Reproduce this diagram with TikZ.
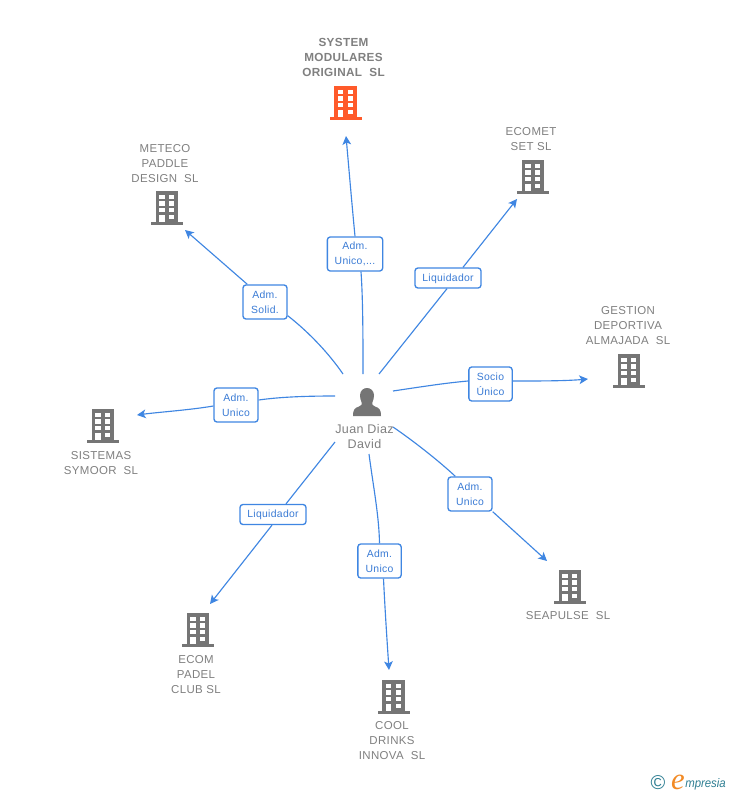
\documentclass[tikz,border=0pt]{standalone}
\usepackage{fontspec}
\usetikzlibrary{arrows.meta,calc}
\newfontfamily\lab[LetterSpace=3]{Liberation Sans}
\newfontfamily\plain{Liberation Sans}
\newfontfamily\serifit{Liberation Serif}
\definecolor{linkblue}{HTML}{3F86E2}
\definecolor{boxtext}{HTML}{3A7BD5}
\definecolor{namegrey}{HTML}{808080}
\definecolor{iconorange}{HTML}{FF5A2A}
\definecolor{icongrey}{HTML}{757575}
\definecolor{logoteal}{HTML}{2F7F93}
\definecolor{logoorange}{HTML}{F28A24}
\tikzset{
  x=0.75pt,y=-0.75pt,
  conn/.style={draw=linkblue,line width=0.85pt},
  arr/.style={conn,-{Stealth[length=6.5pt,width=6.5pt,inset=1.6pt]}},
  linkbox/.style={draw=linkblue,line width=1pt,rounded corners=2.2pt,fill=white,align=center,inner sep=0pt,
    text=boxtext,font=\lab\fontsize{7.8pt}{11.5pt}\selectfont},
  namelab/.style={text=namegrey,align=center,inner sep=0pt,font=\lab\fontsize{8.6pt}{11.25pt}\selectfont},
  anchorpt/.style={inner sep=0pt,minimum size=0pt},
  pics/bldg/.style={code={
    \fill[#1] (-11.3,-17) rectangle (11.3,15);
    \fill[#1] (-16,14) rectangle (16,17);
    \foreach \yy/\hh in {-13/4.4,-7/4.7,0.2/4.2}{
      \fill[white] (-7.7,\yy) rectangle (-2.4,{\yy+\hh});
      \fill[white] (2.3,\yy) rectangle (7.4,{\yy+\hh});
    }
    \fill[white] (-7.7,7) rectangle (-2.4,14.3);
    \fill[white] (2.3,7) rectangle (7.4,11.2);
  }}
}
\begin{document}
\begin{tikzpicture}
\useasboundingbox[fill=white] (0,0) rectangle (728,795);
% company anchors and icons
\node[anchorpt] (b1) at (345.5,103) {}; \pic at (b1) {bldg=iconorange};
\node[anchorpt] (b2) at (167,208) {};   \pic at (b2) {bldg=icongrey};
\node[anchorpt] (b3) at (533,177) {};   \pic at (b3) {bldg=icongrey};
\node[anchorpt] (b4) at (629,371) {};   \pic at (b4) {bldg=icongrey};
\node[anchorpt] (b5) at (103,426) {};   \pic at (b5) {bldg=icongrey};
\node[anchorpt] (b6) at (198,630) {};   \pic at (b6) {bldg=icongrey};
\node[anchorpt] (b7) at (393.5,697) {}; \pic at (b7) {bldg=icongrey};
\node[anchorpt] (b8) at (570,587) {};   \pic at (b8) {bldg=icongrey};
% company names
\node[namelab,font=\lab\bfseries\fontsize{8.8pt}{11.25pt}\selectfont] (n1) at (343.5,57.5) {SYSTEM\\MODULARES\\ORIGINAL\ \ SL};
\node[namelab] (n2) at (165,163.5) {METECO\\PADDLE\\DESIGN\ \ SL};
\node[namelab] (n3) at (531,139) {ECOMET\\SET SL};
\node[namelab] (n4) at (628,325.5) {GESTION\\DEPORTIVA\\ALMAJADA\ \ SL};
\node[namelab] (n5) at (101,463) {SISTEMAS\\SYMOOR\ \ SL};
\node[namelab] (n6) at (196,674.5) {ECOM\\PADEL\\CLUB SL};
\node[namelab] (n7) at (392,740.5) {COOL\\DRINKS\\INNOVA\ \ SL};
\node[namelab] (n8) at (568,615.5) {SEAPULSE\ \ SL};
% person
\node[anchorpt] (pers) at (367,403) {};
\fill[icongrey] (353,416) .. controls (353,409) and (355,408) .. (359,406.5)
  .. controls (361.5,405.5) and (362,404.5) .. (361.8,403)
  .. controls (360.5,400) and (360,397.5) .. (360,395)
  .. controls (360.3,390.5) and (363.5,388) .. (367,388)
  .. controls (370.5,388) and (373.7,390.5) .. (374,395)
  .. controls (374,397.5) and (373.5,400) .. (372.2,403)
  .. controls (372,404.5) and (372.5,405.5) .. (375,406.5)
  .. controls (379,408) and (381,409) .. (381,416) -- cycle;
\node[namelab,font=\lab\fontsize{9.4pt}{11.25pt}\selectfont] (pname) at (364.5,437) {Juan Diaz\\David};
% link boxes
\node[linkbox,minimum width=41.5pt,minimum height=25.5pt] (l1) at (355,254) {Adm.\\Unico,...};
\node[linkbox,minimum width=33pt,minimum height=25.5pt] (l2) at (265,302) {Adm.\\Solid.};
\node[linkbox,minimum width=49.5pt,minimum height=15pt,text height=5.8pt,text depth=0.6pt] (l3) at (448,278) {Liquidador};
\node[linkbox,minimum width=32.5pt,minimum height=25.5pt] (l4) at (490.5,384) {Socio\\Único};
\node[linkbox,minimum width=33pt,minimum height=25.5pt] (l5) at (236,405) {Adm.\\Unico};
\node[linkbox,minimum width=49.5pt,minimum height=15pt,text height=5.8pt,text depth=0.6pt] (l6) at (273,514.5) {Liquidador};
\node[linkbox,minimum width=32.5pt,minimum height=25.5pt] (l7) at (379.5,561) {Adm.\\Unico};
\node[linkbox,minimum width=33pt,minimum height=25.5pt] (l8) at (470,494) {Adm.\\Unico};
% connector ends
\coordinate (s1) at (363,374); \coordinate (e1) at (346,136);
\coordinate (s2) at (343,374); \coordinate (e2) at (185,230);
\coordinate (s3) at (379,374); \coordinate (e3) at (517,199);
\coordinate (s4) at (393,391); \coordinate (e4) at (588,379);
\coordinate (s5) at (335,396); \coordinate (e5) at (137,415);
\coordinate (s6) at (335,442); \coordinate (e6) at (210,604);
\coordinate (s7) at (369,454); \coordinate (e7) at (389,670);
\coordinate (s8) at (393,427); \coordinate (e8) at (547,561);
% connectors
\draw[conn] (s1) .. controls (363,340) and (363,300) .. ($(l1.south)+(6,0)$);
\draw[arr] (l1.north) .. controls (352,205) and (349,170) .. (e1);
\draw[conn] (s2) .. controls (330,355) and (310,333) .. ($(l2.south east)+(0,-4)$);
\draw[arr] ($(l2.north west)+(5,0)$) -- (e2);
\draw[conn] (s3) -- ($(l3.south)+(-1,0)$);
\draw[arr] ($(l3.north)+(15,0)$) -- (e3);
\draw[conn] (s4) .. controls (420,387) and (445,383) .. ($(l4.west)+(0,-3)$);
\draw[arr] ($(l4.east)+(0,-3)$) .. controls (540,381) and (565,381) .. (e4);
\draw[conn] (s5) .. controls (305,396) and (280,397) .. ($(l5.east)+(0,-5)$);
\draw[arr] ($(l5.west)+(0,1)$) .. controls (190,410) and (160,412) .. (e5);
\draw[conn] (s6) -- ($(l6.north)+(13,0)$);
\draw[arr] ($(l6.south)+(-1,0)$) -- (e6);
\draw[conn] (s7) .. controls (373,485) and (379,515) .. (l7.north);
\draw[arr] ($(l7.south)+(4,0)$) .. controls (385,610) and (387,640) .. (e7);
\draw[conn] (s8) .. controls (415,442) and (440,462) .. ($(l8.north west)+(8,0)$);
\draw[arr] ($(l8.south east)+(0,0)$) -- (e8);
% logo
\node[inner sep=0pt,text=logoteal,font=\plain\fontsize{15pt}{15pt}\selectfont] (copy) at (658,783) {©};
\node[inner sep=0pt,text=logoorange,font=\serifit\itshape\fontsize{23pt}{23pt}\selectfont] (loge) at (678,782) {e};
\node[inner sep=0pt,text=logoteal,anchor=west,xscale=0.92,font=\plain\itshape\fontsize{9.3pt}{9.3pt}\selectfont] (logt) at (685,784.5) {mpresia};
\end{tikzpicture}
\end{document}
